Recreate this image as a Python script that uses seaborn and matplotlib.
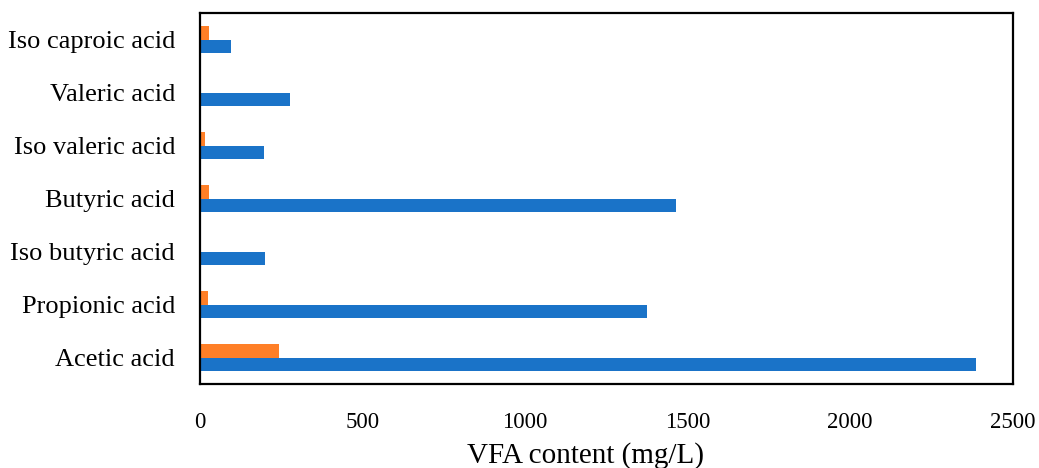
import matplotlib
matplotlib.use("Agg")
import matplotlib.pyplot as plt
import seaborn as sns
import pandas as pd

# VFA concentrations (mg/L) per acid, two series
acids = ["Iso caproic acid", "Valeric acid", "Iso valeric acid", "Butyric acid",
         "Iso butyric acid", "Propionic acid", "Acetic acid"]
series1 = [95, 276, 197, 1465, 201, 1375, 2388]   # blue
series2 = [28, 0, 14, 27, 0, 25, 242]              # orange
series_names = ["Series 2", "Series 1"]
colors = {"Series 2": "#FF7F27", "Series 1": "#1A73C8"}
xticks = [0, 500, 1000, 1500, 2000, 2500]

df = pd.DataFrame({
    "acid": acids * 2,
    "value": series2 + series1,
    "series": ["Series 2"] * len(acids) + ["Series 1"] * len(acids),
})

sns.set_theme(style="white")
plt.rcParams["font.family"] = ["Liberation Serif", "DejaVu Serif"]
plt.rcParams["text.color"] = "black"
plt.rcParams["xtick.color"] = "black"
plt.rcParams["ytick.color"] = "black"
plt.rcParams["axes.labelcolor"] = "black"

fig = plt.figure(figsize=(10.39, 4.68), dpi=100)
ax = fig.add_axes([0.1925, 0.1795, 0.782, 0.7925])

sns.barplot(data=df, y="acid", x="value", hue="series", order=acids,
            hue_order=series_names, palette=colors, orient="h",
            width=0.51, gap=0, linewidth=0, saturation=1,
            ax=ax, legend=False)

ax.set_xlim(0, 2500)
ax.set_xticks(xticks)
ax.set_xticklabels([str(t) for t in xticks], fontsize=16.5)
ax.tick_params(axis="x", length=0, pad=20)
ax.tick_params(axis="y", length=0, pad=18, labelsize=19)
ax.set_ylabel("")
ax.set_xlabel("VFA content (mg/L)", fontsize=21)
ax.xaxis.set_label_coords(0.475, -0.192)
ax.xaxis.label.set_va("center")

for s in ax.spines.values():
    s.set_visible(True)
    s.set_color("black")
    s.set_linewidth(1.6)

fig.savefig("out.png", dpi=100, facecolor="white")
